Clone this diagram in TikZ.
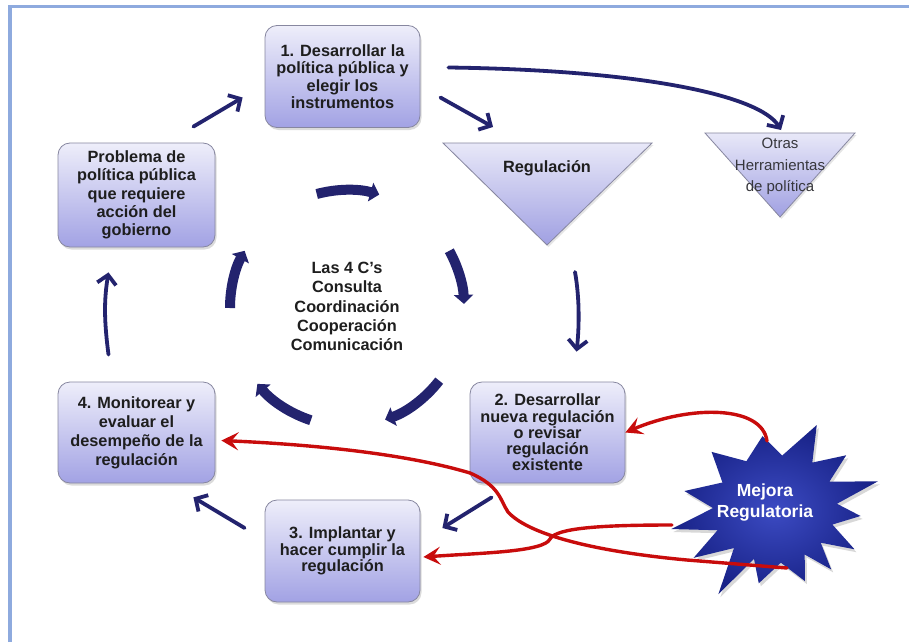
\documentclass[tikz,border=0pt]{standalone}
\usepackage{fontspec}
\setmainfont{Liberation Sans}
\usetikzlibrary{arrows.meta,calc,shadows}
\definecolor{navy}{RGB}{35,35,110}
\definecolor{redc}{RGB}{200,12,12}
\definecolor{frameblue}{RGB}{142,170,222}
\definecolor{boxtop}{RGB}{238,238,250}
\definecolor{boxbot}{RGB}{162,162,228}
\definecolor{boxline}{RGB}{135,135,160}
\definecolor{tritop}{RGB}{232,232,248}
\definecolor{tribot}{RGB}{160,160,226}
\definecolor{txt}{RGB}{30,30,30}
\definecolor{starin}{RGB}{60,75,195}
\definecolor{starout}{RGB}{24,34,135}
\tikzset{
  box/.style={draw=boxline, line width=0.8pt, rounded corners=12pt,
    top color=boxtop, bottom color=boxbot, align=center, text=txt,
    minimum width=155pt, minimum height=102pt, inner sep=0pt,
    drop shadow={opacity=0.28, shadow xshift=1.5pt, shadow yshift=-2.5pt}},
  bx/.style={font=\bfseries\fontsize{16.3}{#1}\selectfont},
  tri/.style={draw=boxline, line width=0.8pt, top color=tritop, bottom color=tribot,
    drop shadow={opacity=0.2, shadow xshift=1.5pt, shadow yshift=-2pt}},
  barrow/.style={draw=navy, line width=3.8pt, line cap=round,
    -{Straight Barb[length=9pt,width=19pt]}},
  cyc/.style={draw=navy, line width=10pt, -{Triangle[length=9pt,width=19pt]}},
  rarrow/.style={draw=redc, line width=3.4pt, line cap=round,
    -{Stealth[length=17pt,width=18pt,inset=7pt]}},
}
\begin{document}
\begin{tikzpicture}[x=1pt,y=-1pt]
\useasboundingbox (0,0) rectangle (909,642);
\fill[white] (0,0) rectangle (909,642);
% frame
\draw[frameblue, line width=3.5pt] (10,642) -- (10,6.5) -- (909,6.5);

% boxes
\node[box, bx=17.5] (b1) at (342.5,76.5) {1. Desarrollar la\\pol\'itica p\'ublica y\\elegir los\\instrumentos};
\node[box, bx=18.3, minimum width=157pt, minimum height=104pt] (prob) at (136.5,195) {Problema de\\pol\'itica p\'ublica\\que requiere\\acci\'on del\\gobierno};
\node[box, bx=19, minimum width=157pt, minimum height=101pt] (b4) at (136.5,432.5) {4. Monitorear y\\evaluar el\\desempe\~no de la\\regulaci\'on};
\node[box, bx=16.3, minimum height=101pt] (b2) at (547.5,432.5) {2. Desarrollar\\nueva regulaci\'on\\o revisar\\regulaci\'on\\existente};
\node[box, bx=16.5] (b3) at (342.5,551) {3. Implantar y\\hacer cumplir la\\regulaci\'on};

% triangles
\coordinate (regA) at (443,143);
\coordinate (regB) at (652,143);
\coordinate (regC) at (547,245);
\path[tri] (regA) -- (regB) -- (regC) -- cycle;
\node[font=\bfseries\fontsize{16.3}{18}\selectfont, text=txt] (reg) at (547,168) {Regulaci\'on};
\coordinate (otA) at (705,133);
\coordinate (otB) at (855,133);
\coordinate (otC) at (780,217);
\path[tri] (otA) -- (otB) -- (otC) -- cycle;
\node[font=\fontsize{15}{21.5}\selectfont, text={rgb,255:red,55;green,55;blue,60}, align=center] (otras) at (780,166.5) {Otras\\Herramientas\\de pol\'itica};

% centre text
\node[font=\bfseries\fontsize{16.3}{19.3}\selectfont, text=txt, align=center] (cs) at (347,306.5) {Las 4 C's\\Consulta\\Coordinaci\'on\\Cooperaci\'on\\Comunicaci\'on};

% cycle arrows
\coordinate (cc) at (347,308);
\foreach \a/\b in {255/286, 331/358, 38/71, 108/140, 180/209}{
  \draw[cyc] ($(cc)+(\a:117 and 118)$) arc[start angle=\a, end angle=\b, x radius=117, y radius=118];
}

% blue connectors
\draw[barrow] ($(prob.north east)+(-22,-16)$) -- ($(b1.west)+(-22,21)$);
\draw[barrow] ($(b1.east)+(20,21)$) -- ($(regA)+(50,-16)$);
\draw[barrow] ($(b1.east)+(28,-9)$) .. controls (640,70) and (760,95) .. ($(otC)+(1,-87)$);
\draw[barrow] ($(regC)+(28,27)$) .. controls (580,300) and (579,330) .. ($(b2.north)+(29,-30)$);
\draw[barrow] ($(b2.south west)+(22,14)$) -- ($(b3.east)+(22,-23)$);
\draw[barrow] ($(b3.west)+(-20,-23)$) -- ($(b4.south east)+(-22,14)$);
\draw[barrow] ($(b4.north)+(-28,-27)$) .. controls (104,320) and (104,300) .. ($(prob.south)+(-28,25)$);

% star
\coordinate (sc) at (775,507);
\path[inner color=starin, outer color=starout,
      drop shadow={opacity=0.3, shadow xshift=2pt, shadow yshift=-3pt}]
  ($(sc)+(-63:92)$) -- ($(sc)+(-50:58)$) --
  ($(sc)+(-36:88)$) -- ($(sc)+(-25:60)$) --
  ($(sc)+(-14:106)$) -- ($(sc)+(-3:62)$) --
  ($(sc)+(6:86)$) -- ($(sc)+(17:60)$) --
  ($(sc)+(28:90)$) -- ($(sc)+(38:58)$) --
  ($(sc)+(48:84)$) -- ($(sc)+(58:56)$) --
  ($(sc)+(68:80)$) -- ($(sc)+(84:56)$) --
  ($(sc)+(102:78)$) -- ($(sc)+(112:56)$) --
  ($(sc)+(123:104)$) -- ($(sc)+(135:58)$) --
  ($(sc)+(148:96)$) -- ($(sc)+(158:62)$) --
  ($(sc)+(168:106)$) -- ($(sc)+(179:62)$) --
  ($(sc)+(190:92)$) -- ($(sc)+(205:58)$) --
  ($(sc)+(221:84)$) -- ($(sc)+(238:54)$) --
  ($(sc)+(260:72)$) -- ($(sc)+(278:52)$) -- cycle;
\node[font=\bfseries\fontsize{17.5}{21}\selectfont, text=white, align=center] (mejora) at (765,503) {Mejora\\Regulatoria};

% red connectors
\draw[rarrow] ($(mejora)+(2,-62)$) .. controls (762,405) and (690,405) .. (b2.east);
\draw[rarrow] ($(mejora)+(-93,22)$) .. controls (600,525) and (556,528) .. (550,539)
   .. controls (544,552) and (480,553) .. ($(b3.east)+(3,6)$);
\draw[rarrow] ($(mejora)+(22,65)$) -- (687,560) .. controls (600,552) and (530,536) .. (508,512)
   .. controls (500,500) and (500,486) .. (470,473) .. controls (400,452) and (300,444) .. ($(b4.east)+(6,8)$);
\end{tikzpicture}
\end{document}
